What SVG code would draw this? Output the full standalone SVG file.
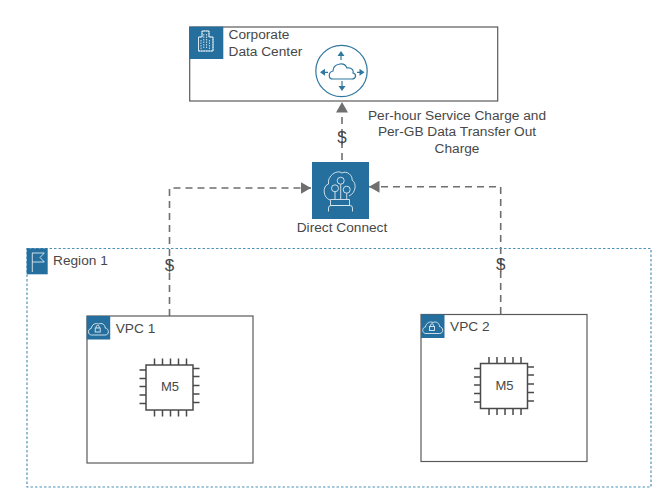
<svg xmlns="http://www.w3.org/2000/svg" width="670" height="497" viewBox="0 0 670 497">
<style>
text{font-family:"Liberation Sans",Arial,sans-serif;font-size:13.7px;fill:#484848}
.box{fill:#fff;stroke:#5a5a5a;stroke-width:1.2}
.tile{fill:#246f9e}
.ic{fill:none;stroke:#dfeaf2;stroke-width:.9}
.wire{fill:none;stroke:#6f6f6f;stroke-width:1.6;stroke-dasharray:7 5}
.chip{fill:none;stroke:#4a4a4a;stroke-width:1.5}
.blue{fill:none;stroke:#2f779f;stroke-width:1.2}
.dollar{font-size:17px;text-anchor:middle}
.m5{font-size:13px;text-anchor:middle}
</style>
<defs>
<marker id="ah" markerUnits="userSpaceOnUse" markerWidth="11" markerHeight="12" refX="10.500" refY="6" orient="auto"><path d="M0 0L10.500 6L0 12Z" fill="#6f6f6f"/></marker>
<g id="chip">
<rect x="-23.500" y="-22.500" width="47" height="45" class="chip"/>
<path class="chip" d="M-15-29v6.500M-7-29v6.500M1-29v6.500M9-29v6.500M17-29v6.500M-15 22.500v6.500M-7 22.500v6.500M1 22.500v6.500M9 22.500v6.500M17 22.500v6.500M-30-17.500h6.500M-30-9h6.500M-30-1h6.500M-30 7.500h6.500M-30 16h6.500M23.500-19h6.500M23.500-11h6.500M23.500-2h6.500M23.500 6.500h6.500M23.500 15h6.500"/>
</g>
<g id="vpcicon">
<rect width="23.500" height="23.500" class="tile"/>
<path class="ic" d="M5 19C1 19 .5 13 4.500 12.500C5 8.500 9 6.500 12 8C15 6.500 18.500 8.500 18.500 12C22.500 12.500 23 19 18.500 19Z"/>
<rect x="8.500" y="12" width="5" height="4" class="ic"/>
<path class="ic" d="M9.500 12v-1.200a1.500 1.500 0 0 1 3 0V12"/>
</g>
</defs>

<g id="connectors">
<path class="wire" d="M342 160V102" marker-end="url(#ah)"/>
<path class="wire" d="M169.500 316V188H311" marker-end="url(#ah)"/>
<path class="wire" d="M500.700 314V186.700H369" marker-end="url(#ah)"/>
</g>

<g id="region-1">
<rect x="27" y="248.500" width="624" height="238.500" fill="none" stroke="#4f92b8" stroke-width="1.2" stroke-dasharray="2.500 2"/>
<rect x="26.700" y="248.300" width="21" height="26" class="tile"/>
<path class="ic" d="M32.300 272V252.700M32.300 253H44.300L40 257.500L44.300 262H32.300"/>
<text x="53" y="265">Region 1</text>
<text class="dollar" x="169.500" y="271">$</text>
<text class="dollar" x="500.700" y="270">$</text>
</g>

<g id="corporate-data-center">
<rect x="189.700" y="27" width="308" height="74" class="box"/>
<rect x="189.300" y="26.700" width="34" height="32.300" class="tile"/>
<path class="ic" d="M198.500 51V37H202V31H209V37H213V51ZM201 40v9M203.800 34v15M206.600 34v15M209.400 40v9" stroke-dasharray="1.500 1"/>
<path class="ic" d="M198.500 51V37H202V31H209V37H213V51Z"/>
<text x="228.500" y="39.300">Corporate</text>
<text x="228.500" y="56.300">Data Center</text>
<circle cx="341.500" cy="71" r="25.700" class="blue"/>
<path class="blue" d="M333 79C328 79 328 72 333 71C333 64 344 61 347 68C352 67 354 71 353 73C357 74 356 79 352 79Z"/>
<path class="blue" d="M341 55V60M342 81V87M324 72.300H328M357 72.300H361"/>
<path d="M341 51l-3.500 5h7ZM342 91l-3.500-5h7ZM320 72.300l5-3.500v7ZM364.500 72.300l-5-3.500v7Z" fill="#2f779f"/>
</g>

<g id="direct-connect">
<rect x="312" y="162" width="57" height="57" class="tile"/>
<path class="ic" stroke-width="1.100" d="M330 200C323 198 322 186 328.500 184C327 176 337 169 342 173C347 170 353 176 352 180C357 183 356 193 349 196"/>
<circle cx="340.700" cy="180.700" r="3.500" class="ic"/>
<circle cx="335" cy="188.300" r="3.500" class="ic"/>
<circle cx="346.700" cy="189.700" r="3.500" class="ic"/>
<path class="ic" d="M340.700 184.200V199M335 191.800V199M346.700 193.200V199M330.500 199.500H349.500V205.500H330.500ZM328.500 211.500V208Q328.500 205.500 331 205.500H350Q352.500 205.500 352.500 208V211.500"/>
<text x="342" y="232.300" text-anchor="middle">Direct Connect</text>
</g>

<g id="charge-label">
<text x="457" y="120" text-anchor="middle">Per-hour Service Charge and</text>
<text x="457" y="136" text-anchor="middle">Per-GB Data Transfer Out</text>
<text x="457" y="152.500" text-anchor="middle">Charge</text>
<text class="dollar" x="342" y="143">$</text>
</g>

<g id="vpc-1">
<rect x="87" y="316" width="166" height="147" class="box"/>
<use href="#vpcicon" x="86.700" y="316"/>
<text x="115.700" y="332.500">VPC 1</text>
<use href="#chip" x="169.500" y="387.500"/>
<text class="m5" x="170" y="391">M5</text>
</g>

<g id="vpc-2">
<rect x="421" y="314.500" width="166" height="147" class="box"/>
<use href="#vpcicon" x="421" y="314.500"/>
<text x="450" y="330.700">VPC 2</text>
<use href="#chip" x="504" y="386"/>
<text class="m5" x="504.500" y="390">M5</text>
</g>
</svg>
